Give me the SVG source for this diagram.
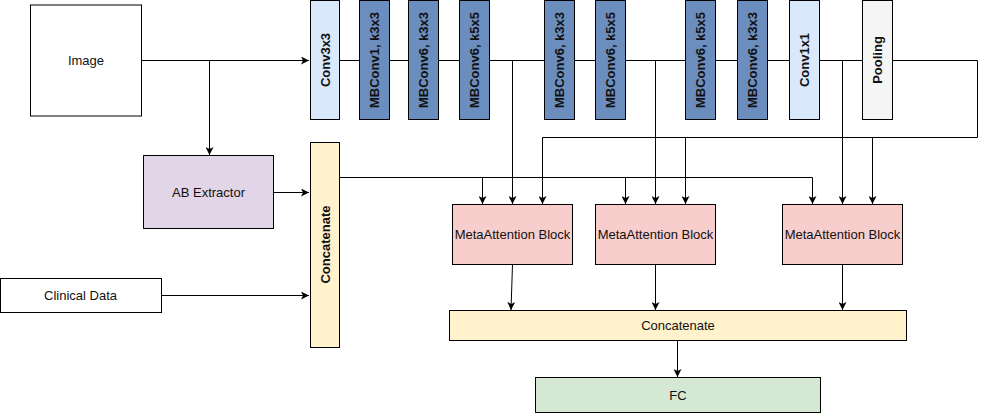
<svg xmlns="http://www.w3.org/2000/svg" width="986" height="414" viewBox="0 0 986 414">
<defs>
<marker id="arr" markerWidth="9" markerHeight="8" refX="8" refY="4" orient="auto" markerUnits="userSpaceOnUse">
<path d="M0,0 L8,4 L0,8 L2,4 Z" fill="#000"/>
</marker>
<style>
.n{stroke:#000;stroke-width:1}
.t{font-family:"Liberation Sans",Arial,sans-serif;font-size:13px;fill:#111;text-anchor:middle;dominant-baseline:central}
.v{font-weight:bold}
.c{fill:none;stroke:#000;stroke-width:1}
.a{marker-end:url(#arr)}
.conv{fill:#dae8fc}
.mb{fill:#6c8ebf}
.cat{fill:#fff2cc}
.ma{fill:#f8cecc}
</style>
</defs>
<rect width="986" height="414" fill="#fff"/>
<g id="connectors">
<path class="c a" d="M142,60.5 H309"/>
<path class="c a" d="M209.5,60.5 V155"/>
<path class="c a" d="M274,192.5 H309"/>
<path class="c a" d="M162,295.5 H309"/>
<path class="c" d="M339,60.5 H359.5 M389.5,60.5 H408.5 M438.5,60.5 H459.5 M489.5,60.5 H544.5 M574.5,60.5 H595.5 M625.5,60.5 H685.5 M715.5,60.5 H737.5 M767.5,60.5 H789.5 M819.5,60.5 H862.5"/>
<path class="c a" d="M892.5,60.5 H977.5 V137.5 H542.5 V204"/>
<path class="c a" d="M685.5,137.5 V204"/>
<path class="c a" d="M872.5,137.5 V204"/>
<path class="c a" d="M512.5,60.5 V204"/>
<path class="c a" d="M655.5,60.5 V204"/>
<path class="c a" d="M842.5,60.5 V204"/>
<path class="c a" d="M340,177.5 H812.5 V204"/>
<path class="c a" d="M482.5,177.5 V204"/>
<path class="c a" d="M625.5,177.5 V204"/>
<path class="c a" d="M512.5,264.5 L511,310"/>
<path class="c a" d="M655.5,264.5 V310"/>
<path class="c a" d="M842.5,264.5 V310"/>
<path class="c a" d="M677.5,340.5 V377"/>
</g>
<g id="image"><rect class="n" x="30.5" y="5" width="111" height="111" fill="#fff"/><text class="t" x="86" y="60.5">Image</text></g>
<g id="conv3x3"><rect class="n conv" x="310.5" y="0.5" width="29" height="119"/><text class="t v" transform="translate(325,60) rotate(-90)">Conv3x3</text></g>
<g id="mb1"><rect class="n mb" x="359.5" y="0.5" width="30" height="119"/><text class="t v" transform="translate(374.5,60) rotate(-90)">MBConv1, k3x3</text></g>
<g id="mb2"><rect class="n mb" x="408.5" y="0.5" width="30" height="119"/><text class="t v" transform="translate(423.5,60) rotate(-90)">MBConv6, k3x3</text></g>
<g id="mb3"><rect class="n mb" x="459.5" y="0.5" width="30" height="119"/><text class="t v" transform="translate(474.5,60) rotate(-90)">MBConv6, k5x5</text></g>
<g id="mb4"><rect class="n mb" x="544.5" y="0.5" width="30" height="119"/><text class="t v" transform="translate(559.5,60) rotate(-90)">MBConv6, k3x3</text></g>
<g id="mb5"><rect class="n mb" x="595.5" y="0.5" width="30" height="119"/><text class="t v" transform="translate(610.5,60) rotate(-90)">MBConv6, k5x5</text></g>
<g id="mb6"><rect class="n mb" x="685.5" y="0.5" width="30" height="119"/><text class="t v" transform="translate(700.5,60) rotate(-90)">MBConv6, k5x5</text></g>
<g id="mb7"><rect class="n mb" x="737.5" y="0.5" width="30" height="119"/><text class="t v" transform="translate(752.5,60) rotate(-90)">MBConv6, k3x3</text></g>
<g id="conv1x1"><rect class="n conv" x="789.5" y="0.5" width="30" height="119"/><text class="t v" transform="translate(804.5,60) rotate(-90)">Conv1x1</text></g>
<g id="pooling"><rect class="n" x="862.5" y="0.5" width="30" height="119" fill="#f5f5f5"/><text class="t v" transform="translate(877.5,60) rotate(-90)">Pooling</text></g>
<g id="ab"><rect class="n" x="143.5" y="155.5" width="130" height="73" fill="#e1d5e7"/><text class="t" x="208.5" y="192">AB Extractor</text></g>
<g id="concat1"><rect class="n cat" x="310.5" y="142.5" width="29" height="205"/><text class="t v" transform="translate(325,244.5) rotate(-90)">Concatenate</text></g>
<g id="clinical"><rect class="n" x="0.5" y="278.5" width="161" height="34" fill="#fff"/><text class="t" x="80.5" y="295.5">Clinical Data</text></g>
<g id="ma1"><rect class="n ma" x="452.5" y="204.5" width="120" height="60"/><text class="t" x="512.5" y="234">MetaAttention Block</text></g>
<g id="ma2"><rect class="n ma" x="595.5" y="204.5" width="120" height="60"/><text class="t" x="655.5" y="234">MetaAttention Block</text></g>
<g id="ma3"><rect class="n ma" x="782.5" y="204.5" width="120" height="60"/><text class="t" x="842.5" y="234">MetaAttention Block</text></g>
<g id="concat2"><rect class="n cat" x="449.5" y="310.5" width="457" height="30"/><text class="t" x="678" y="325.5">Concatenate</text></g>
<g id="fc"><rect class="n" x="535.5" y="377.5" width="285" height="35" fill="#d5e8d4"/><text class="t" x="678" y="395.5">FC</text></g>
</svg>
